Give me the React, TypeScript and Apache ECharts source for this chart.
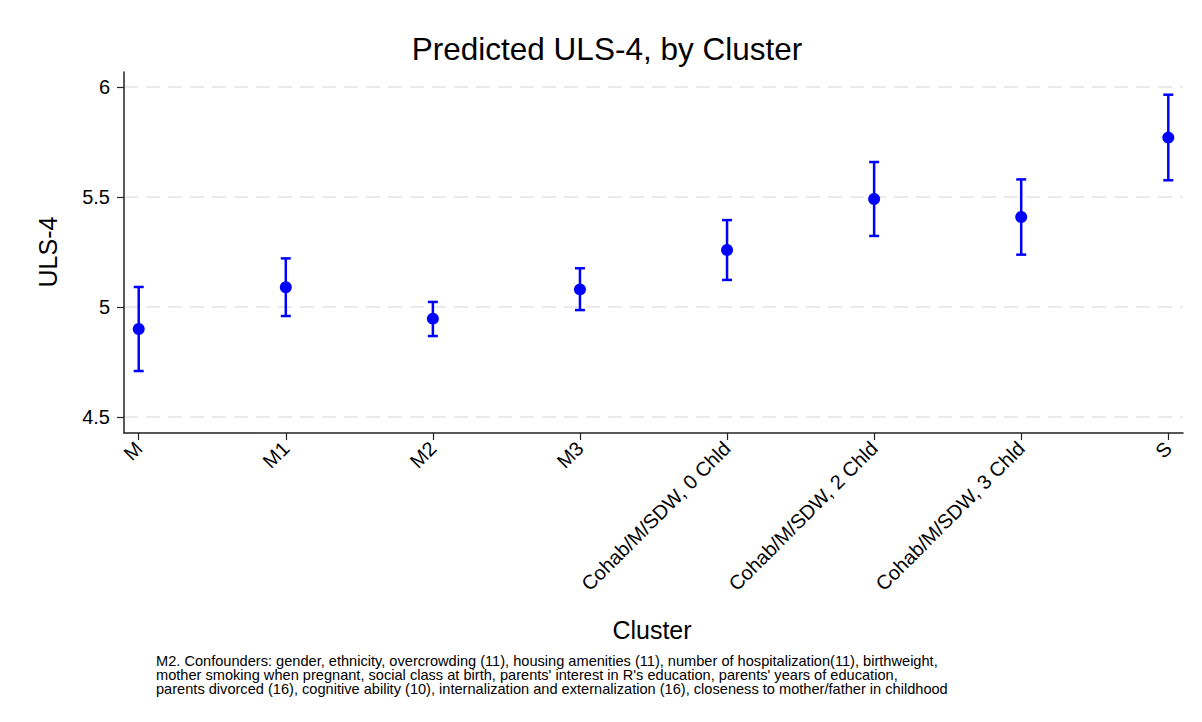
import React, { useEffect, useRef } from "react";
import * as echarts from "echarts";

const categories = [
  "M",
  "M1",
  "M2",
  "M3",
  "Cohab/M/SDW, 0 Chld",
  "Cohab/M/SDW, 2 Chld",
  "Cohab/M/SDW, 3 Chld",
  "S",
];
const means = [4.9, 5.09, 4.947, 5.08, 5.259, 5.491, 5.409, 5.77];
const lowers = [4.709, 4.959, 4.868, 4.986, 5.123, 5.323, 5.238, 5.576];
const uppers = [5.091, 5.221, 5.023, 5.176, 5.395, 5.659, 5.58, 5.965];
const yTicks = [4.5, 5, 5.5, 6];
const xTicks = [0, 1, 2, 3, 4, 5, 6, 7];

const titleText = "Predicted ULS-4, by Cluster";
const yName = "ULS-4";
const xName = "Cluster";
const captionLines = [
  "M2. Confounders: gender, ethnicity, overcrowding (11), housing amenities (11), number of hospitalization(11), birthweight,",
  "mother smoking when pregnant, social class at birth, parents' interest in R's education, parents' years of education,",
  "parents divorced (16), cognitive ability (10), internalization and externalization (16), closeness to mother/father in childhood",
];

const BLUE = "#0000ff";
const FONT = "'Liberation Sans', Arial, Helvetica, sans-serif";

export default function App() {
  const ref = useRef<HTMLDivElement>(null);
  useEffect(() => {
    document.body.style.margin = "0";
    const chart = echarts.init(ref.current!, null, { renderer: "svg" });
    const errData = categories.map((_, i) => [i, lowers[i], uppers[i]]);
    const ptData = categories.map((_, i) => [i, means[i]]);
    chart.setOption({
      animation: false,
      backgroundColor: "#ffffff",
      grid: { left: 124, top: 72, right: 19, bottom: 289, containLabel: false },
      xAxis: {
        type: "value",
        min: -0.1,
        max: 7.1,
        axisLine: { show: true, onZero: false, lineStyle: { color: "#222", width: 1.5 } },
        axisTick: { show: true, length: 7, customValues: xTicks, lineStyle: { color: "#222", width: 1.2 } },
        axisLabel: {
          customValues: xTicks,
          rotate: 45,
          margin: 12,
          fontFamily: FONT,
          fontSize: 20,
          color: "#000",
          formatter: (v: number) => categories[Math.round(v)] ?? "",
        },
        splitLine: { show: false },
      },
      yAxis: {
        type: "value",
        min: 4.5 - 16 / 220,
        max: 6 + 15 / 220,
        axisLine: { show: true, onZero: false, lineStyle: { color: "#222", width: 1.5 } },
        axisTick: { show: true, length: 7, customValues: yTicks, lineStyle: { color: "#222", width: 1.2 } },
        axisLabel: {
          customValues: yTicks,
          margin: 14,
          fontFamily: FONT,
          fontSize: 20,
          color: "#000",
          formatter: (v: number) => String(v),
        },
        splitLine: {
          show: true,
          lineStyle: { color: "#e4e4e4", type: [14, 8], width: 1.5 },
        },
      },
      graphic: [
        {
          type: "text",
          x: 607,
          y: 49,
          style: {
            text: titleText,
            fontFamily: FONT,
            fontSize: 31.5,
            fill: "#000",
            align: "center",
            verticalAlign: "middle",
          },
        },
        {
          type: "text",
          x: 48,
          y: 252,
          rotation: Math.PI / 2,
          style: {
            text: yName,
            fontFamily: FONT,
            fontSize: 25,
            fill: "#000",
            align: "center",
            verticalAlign: "middle",
          },
        },
        {
          type: "text",
          x: 652,
          y: 630,
          style: {
            text: xName,
            fontFamily: FONT,
            fontSize: 25,
            fill: "#000",
            align: "center",
            verticalAlign: "middle",
          },
        },
        {
          type: "text",
          x: 156,
          y: 654,
          style: {
            text: captionLines.join("\n"),
            fontFamily: FONT,
            fontSize: 14.6,
            lineHeight: 14,
            fill: "#000",
            align: "left",
            verticalAlign: "top",
          },
        },
      ],
      series: [
        {
          type: "custom",
          data: errData,
          encode: { x: 0, y: [1, 2] },
          z: 2,
          renderItem: (params: any, api: any) => {
            const x = api.value(0);
            const lo = api.coord([x, api.value(1)]);
            const hi = api.coord([x, api.value(2)]);
            const hw = 5;
            const style = { stroke: BLUE, lineWidth: 2.5 };
            return {
              type: "group",
              children: [
                { type: "line", shape: { x1: lo[0], y1: lo[1], x2: hi[0], y2: hi[1] }, style },
                { type: "line", shape: { x1: lo[0] - hw, y1: lo[1], x2: lo[0] + hw, y2: lo[1] }, style },
                { type: "line", shape: { x1: hi[0] - hw, y1: hi[1], x2: hi[0] + hw, y2: hi[1] }, style },
              ],
            };
          },
        },
        {
          type: "scatter",
          data: ptData,
          symbol: "circle",
          symbolSize: 12,
          itemStyle: { color: BLUE, opacity: 1 },
          z: 3,
        },
      ],
    });
    return () => chart.dispose();
  }, []);
  return <div ref={ref} style={{ width: 1202, height: 722 }} />;
}
